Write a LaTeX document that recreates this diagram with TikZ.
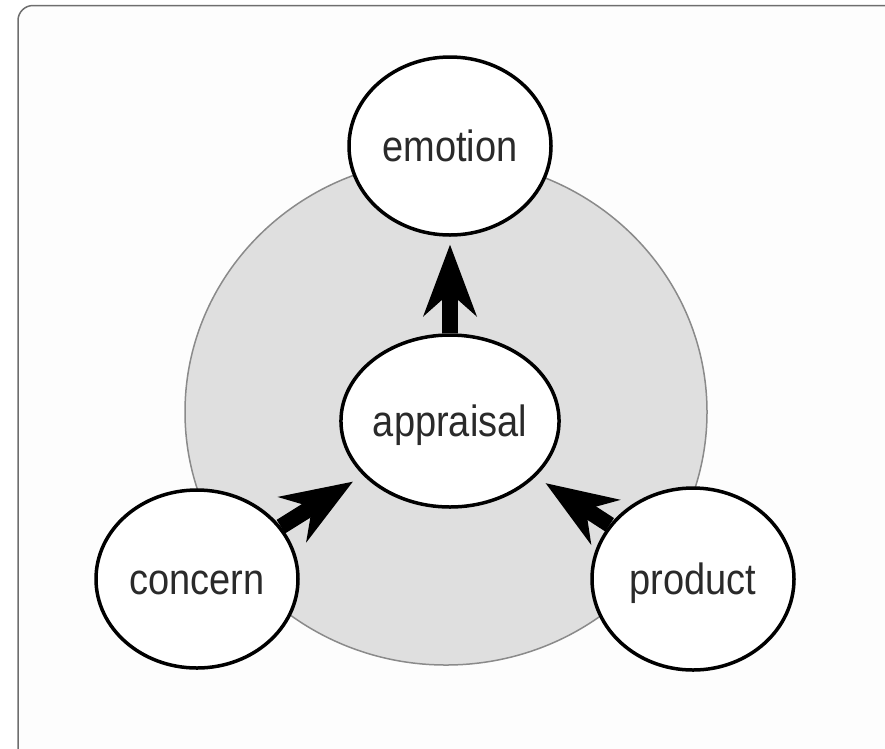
\documentclass[tikz,border=0pt]{standalone}
\usepackage{fontspec}
\setmainfont{Liberation Sans}
\usetikzlibrary{shapes.geometric,arrows.meta}
\definecolor{discgray}{HTML}{DFDFDF}
\definecolor{discedge}{HTML}{8A8A8A}
\definecolor{frameedge}{HTML}{6E6E6E}
\definecolor{txt}{HTML}{2A2A2A}
\tikzset{
  bubble/.style={ellipse, draw=black, line width=3.5pt, fill=white,
    minimum width=202pt, minimum height=178pt, inner sep=0pt,
    text height=30pt, text depth=0pt, text=txt,
    font=\fontsize{38}{40}\selectfont},
  bigarrow/.style={draw=black, line width=16pt,
    -{Stealth[length=72pt,width=54pt,inset=24pt,line width=0pt]}}
}
\newcommand{\tall}[1]{\scalebox{1}[1.15]{#1}}
\begin{document}
\begin{tikzpicture}[x=1pt,y=-1pt]
  \useasboundingbox (0,0) rectangle (885,748);
  \begin{scope}
    \clip (0,0) rectangle (885,748);
    \draw[frameedge, line width=1.5pt, fill={rgb,255:red,253;green,253;blue,253}, rounded corners=15pt]
      (18,5.5) rectangle (920,790);
  \end{scope}
  \draw[discedge, line width=1.5pt, fill=discgray] (446,412) ellipse [x radius=261, y radius=253];
  \node[bubble] (emotion) at (450,146) {\tall{emotion}};
  \node[bubble, minimum height=172pt] (appraisal) at (450,421) {\tall{appraisal}};
  \node[bubble] (concern) at (197,579) {\tall{concern}};
  \node[bubble, minimum height=182pt] (product) at (693,579) {\tall{product}};
  \draw[bigarrow, shorten >=8pt] (appraisal) -- (emotion);
  \draw[bigarrow, shorten >=12pt] (concern) -- (appraisal);
  \draw[bigarrow, shorten >=12pt] (product) -- (appraisal);
\end{tikzpicture}
\end{document}
